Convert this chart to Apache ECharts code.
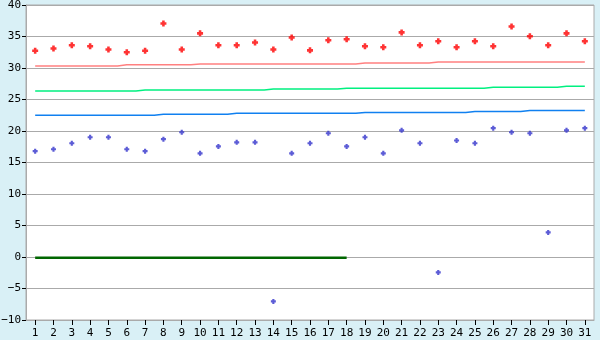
<!DOCTYPE html>
<html><head><meta charset="utf-8">
<script src="https://cdn.jsdelivr.net/npm/echarts@6/dist/echarts.min.js"></script>
<style>html,body{margin:0;padding:0;background:#d9f0f6;}#c{width:600px;height:340px;}</style>
</head><body><div id="c"></div>
<script>
var categories = ['1','2','3','4','5','6','7','8','9','10','11','12','13','14','15','16','17','18','19','20','21','22','23','24','25','26','27','28','29','30','31'];
var redPoints = [32.75,33.1,33.6,33.45,32.95,32.5,32.75,37.05,32.95,35.5,33.6,33.6,34.05,32.95,34.85,32.8,34.4,34.55,33.45,33.3,35.65,33.6,34.25,33.3,34.25,33.45,36.6,35.05,33.6,35.5,34.25];
var bluePoints = [16.8,17.1,18.05,19.0,19.0,17.1,16.8,18.7,19.8,16.45,17.55,18.2,18.2,-7.05,16.45,18.05,19.65,17.55,19.0,16.45,20.1,18.05,-2.45,18.5,18.05,20.45,19.8,19.65,3.9,20.1,20.45];
var pinkLine = [30.3,30.3,30.3,30.3,30.3,30.5,30.5,30.5,30.5,30.63,30.63,30.63,30.63,30.63,30.63,30.63,30.63,30.63,30.8,30.8,30.8,30.8,30.95,30.95,30.95,30.95,30.95,30.95,30.95,30.95,30.95];
var greenLine = [26.35,26.35,26.35,26.35,26.35,26.35,26.5,26.5,26.5,26.5,26.5,26.5,26.5,26.65,26.65,26.65,26.65,26.8,26.8,26.8,26.8,26.8,26.8,26.8,26.8,26.95,26.95,26.95,26.95,27.1,27.1];
var blueLine = [22.5,22.5,22.5,22.5,22.5,22.5,22.5,22.65,22.65,22.65,22.65,22.8,22.8,22.8,22.8,22.8,22.8,22.8,22.95,22.95,22.95,22.95,22.95,22.95,23.1,23.1,23.1,23.27,23.27,23.27,23.27];
var darkGreenLine = [-0.12,-0.12,-0.12,-0.12,-0.12,-0.12,-0.12,-0.12,-0.12,-0.12,-0.12,-0.12,-0.12,-0.12,-0.12,-0.12,-0.12,-0.12];
var yMin = -10, yMax = 40, yStep = 5;

var marker = 'path://M2,0H5V2H7V5H5V7H2V5H0V2H2Z';
var font = 'DejaVu Sans Mono';
var chart = echarts.init(document.getElementById('c'), null, {renderer:'canvas'});
function stepLine(data, color, width){
  return {type:'line', data:data, step:'middle', showSymbol:false, symbol:'none', silent:true, animation:false,
    lineStyle:{color:color, width:width}, z:2};
}
chart.setOption({
  animation:false,
  backgroundColor:'#d9f0f6',
  grid:{left:26, right:6, top:5, bottom:20, containLabel:false, outerBoundsMode:'none', show:true, backgroundColor:'#ffffff', borderColor:'#aaaaaa', borderWidth:1},
  xAxis:{type:'category', data:categories, boundaryGap:true,
    axisLine:{show:true, onZero:false, lineStyle:{color:'#aaaaaa', width:1}},
    axisTick:{show:true, inside:false, alignWithLabel:true, interval:0, length:5, lineStyle:{color:'#000000', width:1}},
    axisLabel:{color:'#000', fontFamily:font, fontSize:11, margin:8, interval:0},
    splitLine:{show:false}},
  yAxis:{type:'value', min:yMin, max:yMax, interval:yStep,
    axisLine:{show:true, onZero:false, lineStyle:{color:'#aaaaaa', width:1}},
    axisTick:{show:true, inside:false, length:4, lineStyle:{color:'#000000', width:1}},
    axisLabel:{color:'#000', fontFamily:font, fontSize:11, margin:5, formatter:function(v){return String(v).replace('-','\u2212');}},
    splitLine:{lineStyle:{color:'#aaaaaa', width:1}}},
  series:[
    stepLine(pinkLine,'#ff8080',1.5),
    stepLine(greenLine,'#00f080',1.5),
    stepLine(blueLine,'#1080f0',1.5),
    stepLine(darkGreenLine,'#006600',2.5),
    {type:'scatter', data:redPoints, symbol:marker, symbolSize:6, itemStyle:{color:'#ff0000'}, z:3},
    {type:'scatter', data:bluePoints, symbol:marker, symbolSize:5, itemStyle:{color:'#3333cc'}, z:3}
  ]
});
</script></body></html>
